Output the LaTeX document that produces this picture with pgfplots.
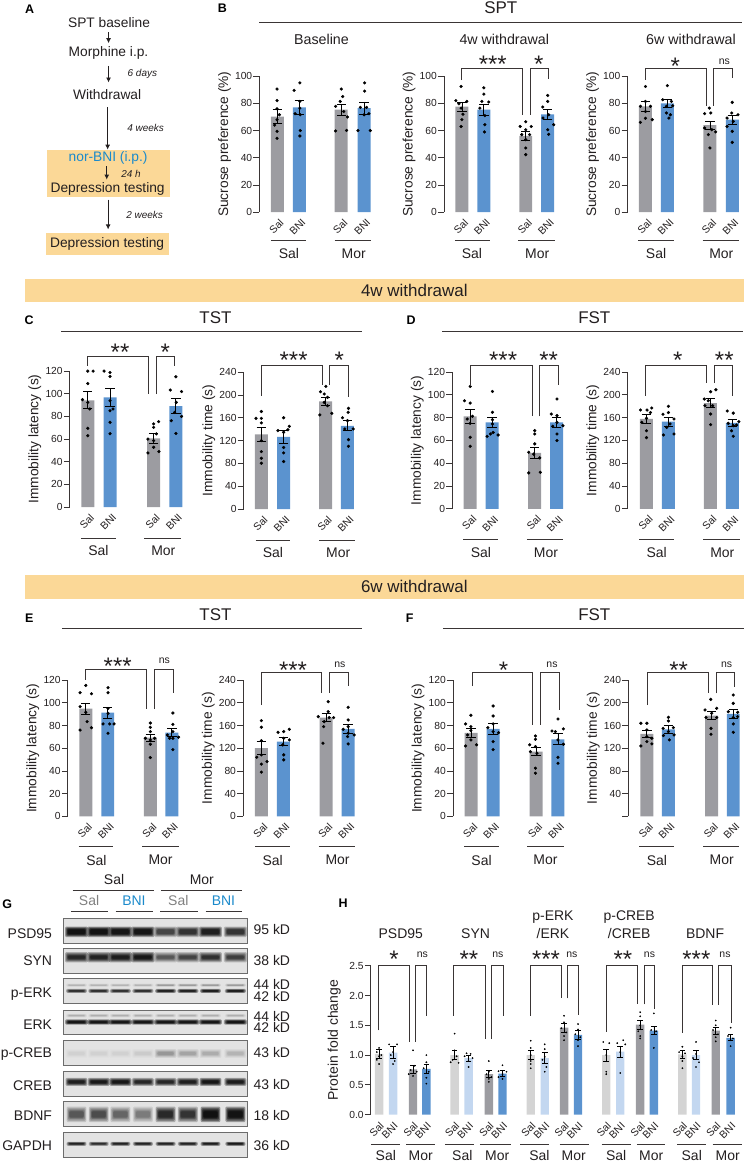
\documentclass[border=0pt]{standalone}
\usepackage{fontspec}
\setmainfont{Liberation Sans}
\usepackage{pgfplots}
\pgfplotsset{compat=1.18}
\definecolor{bargray}{HTML}{9C9CA1}
\definecolor{barblue}{HTML}{5B93CF}
\definecolor{lightgray}{HTML}{D4D4D4}
\definecolor{lightblue}{HTML}{C3D7F0}
\definecolor{bandorange}{HTML}{FBD897}
\definecolor{ink}{HTML}{231F20}
\definecolor{linecol}{HTML}{3A3535}
\definecolor{norblue}{HTML}{1B8ACB}
\newcommand{\fs}[1]{\fontsize{#1}{#1}\selectfont}
\def\grpA{31}
\def\grpB{44}
\def\tlx{4.5pt}
\def\tly{-2.5pt}

\pgfplotsset{
  panel/.style={
    scale only axis, width=120pt, height=137pt,
    anchor=south west, clip=false,
    xmin=0, xmax=120, ymin=0,
    axis y line*=left, axis x line*=bottom,
    x axis line style={draw=none},
    y axis line style={-, color=linecol, line width=0.8pt},
    major x tick style={draw=none},
    major y tick style={color=linecol, line width=0.8pt},
    tick align=outside, major tick length=6pt,
    xticklabels={Sal,BNI,Sal,BNI},
    x tick label style={xshift=\tlx, yshift=\tly, rotate=45, anchor=east, inner sep=0pt, font=\fs{10.5}, text=ink},
    y tick label style={font=\fs{10.3}, text=ink, inner sep=1pt},
    /pgf/number format/assume math mode=true,
    every axis y label/.style={at={([xshift=-35pt]axis description cs:0,0.5)}, rotate=90, anchor=center, font=\fs{13.8}, text=ink},
  },
  latency/.style={panel, ymax=120, ytick={0,20,...,120}, ylabel={Immobility latency (s)}},
  timeax/.style={panel, ymax=240, ytick={0,40,...,240}, ylabel={Immobility time (s)}},
  spt/.style={panel, ymax=100, ytick={0,20,...,100}, ylabel={Sucrose preference (\%)}},
  bars/.style={ybar, bar shift=0pt, bar width=13pt, draw=none, fill=#1,
    error bars/.cd, y dir=both, y explicit,
    error bar style={draw=black, line width=0.8pt},
    error mark options={rotate=90, mark size=4.7pt, black, line width=0.8pt}},
  dots/.style={only marks, mark=*, mark size=1.4pt, black, mark options={draw=none, fill=black}},
  hbars/.style={ybar, bar shift=0pt, bar width=8.4pt, draw=none, fill=#1,
    error bars/.cd, y dir=both, y explicit,
    error bar style={draw=black, line width=0.7pt},
    error mark options={rotate=90, mark size=2.8pt, black, line width=0.7pt}},
  hdots/.style={only marks, mark=*, mark size=0.65pt, black, mark options={draw=none, fill=black}},
}

% group underline and group name, used inside an axis
\newcommand{\grp}[4]{%
  \draw[linecol, line width=0.9pt] ([yshift=-\grpA pt]axis cs:#1,0) -- ([yshift=-\grpA pt]axis cs:#2,0);
  \node[font=\fs{14}, text=ink] at ([yshift=-\grpB pt]axis cs:#3,0) {#4};}

% significance bracket: x1 y1 x2 y2 ytop, pixel coordinates
\newcommand{\brk}[5]{\draw[linecol, line width=0.8pt] (#1,#2) -- (#1,#5) -- (#3,#5) -- (#3,#4);}
\newcommand{\sig}[3]{\node[anchor=base, inner sep=0pt, font=\fs{24}, text=ink] at (#1,{#2+13}) {#3};}
\newcommand{\ns}[2]{\node[font=\fs{10.5}, text=ink] at (#1,#2) {ns};}
\newcommand{\plabel}[3]{\node[font=\fs{12.5}\bfseries, text=black] at (#1,#2) {#3};}
\newcommand{\ttl}[5]{\node[font=\fs{17}, text=ink] at (#1,#2) {#3};
  \draw[linecol, line width=1pt] (#4,{#2+14.4}) -- (#5,{#2+14.4});}
\newcommand{\flow}[3]{\draw[ink, line width=0.9pt, -{Latex[length=5pt,width=5pt]}] (#1,#2) -- (#1,#3);}
% a blurred blot band: x y w h strength spread-of-blur-in-y
\newcommand{\band}[6]{%
  \foreach \d in {3,2.2,1.5,0.9,0.4,0}{
    \fill[black, opacity=#5*0.35, rounded corners=1.2pt] ({#1-#3/2-\d},{#2-#4/2-\d*#6}) rectangle ({#1+#3/2+\d},{#2+#4/2+\d*#6});}}
\newcommand{\blot}[2]{\fill[gray!22] (64,#1) rectangle (247.7,#2);}
\newcommand{\frameblot}[2]{\draw[gray!85!black, line width=0.8pt] (64,#1) rectangle (247.7,#2);}
\usetikzlibrary{arrows.meta}

\begin{document}
\begin{tikzpicture}
\begin{scope}[x=1pt,y=-1pt]
\path[use as bounding box] (0,0) rectangle (747,1164);
% orange boxes and bands
\fill[bandorange] (46.8,150.3) rectangle (170,197.3);
\fill[bandorange] (46.3,233.3) rectangle (169.5,256);
\fill[bandorange] (25.3,279.3) rectangle (745.3,302.7);
\fill[bandorange] (25.3,576) rectangle (745.3,600.3);
\node[font=\fs{17}, text=ink] at (415.3,290.7) {4w withdrawal};
\node[font=\fs{17}, text=ink] at (415.3,588) {6w withdrawal};
% panel A
\plabel{29.6}{9}{A}
\begin{scope}[every node/.style={font=\fs{13.8}, text=ink}]
\node at (109.3,22.7) {SPT baseline};
\node at (108.8,53.3) {Morphine i.p.};
\node at (107.4,94.7) {Withdrawal};
\node[text=norblue] at (108.4,158.7) {nor-BNI (i.p.)};
\node at (107.9,189.3) {Depression testing};
\node at (107.4,245) {Depression testing};
\end{scope}
\begin{scope}[every node/.style={font=\fs{10}\itshape, text=ink}]
\node at (142.7,74) {6 days};
\node at (146,128.3) {4 weeks};
\node at (131.3,174) {24 h};
\node at (145,215) {2 weeks};
\end{scope}
\flow{108.8}{32.3}{43.3}
\flow{108.8}{66}{82.7}
\flow{107.9}{107.7}{150}
\flow{107}{166.7}{180}
\flow{108.4}{200}{230}
% panel titles
\plabel{223}{8.3}{B}
\ttl{502}{8}{SPT}{260}{743.7}
\node[font=\fs{14.3}, text=ink] at (322.2,40) {Baseline};
\node[font=\fs{14.3}, text=ink] at (505.5,40) {4w withdrawal};
\node[font=\fs{14.3}, text=ink] at (692.6,40) {6w withdrawal};
\plabel{29.3}{321}{C}
\ttl{216}{318.3}{TST}{61.3}{363}
\plabel{412}{321}{D}
\ttl{595.7}{318.3}{FST}{443.3}{745}
\plabel{29.3}{620}{E}
\ttl{216}{616}{TST}{62}{363.3}
\plabel{410.7}{620}{F}
\ttl{595.7}{616}{FST}{444}{745.7}
\plabel{7.3}{906}{G}
\plabel{344}{905.7}{H}
% panel G, the blots
\blot{920.7}{945.7}\blot{950.3}{975.7}\blot{980.3}{1005.7}\blot{1012.3}{1036.7}
\blot{1043}{1067.7}\blot{1073.7}{1098.7}\blot{1104.3}{1129.3}\blot{1135.3}{1160.3}
\foreach \x/\v in {76.7/.95,99/.95,120.7/.9,143.3/.9,166/.5,188.3/.62,211/.8,236/.6}{\band{\x}{934}{17}{4.5}{\v}{1}}
\foreach \x/\v in {76.7/.72,99/.75,120.7/.82,143.3/.88,166/.42,188.3/.52,211/.65,236/.55}{\band{\x}{959.5}{17}{3}{\v}{1.2}}
\foreach \x/\v in {76.7/.72,99/.72,120.7/.7,143.3/.72,166/.85,188.3/.85,211/.88,236/.9}{\band{\x}{993.3}{15}{1}{\v}{.5}}
\foreach \x/\v in {76.7/.12,99/.12,120.7/.12,143.3/.12,166/.2,188.3/.2,211/.2,236/.2}{\band{\x}{987.5}{15}{.5}{\v}{.4}}
\foreach \x/\v in {76.7/.92,99/.9,120.7/.9,143.3/.9,166/.9,188.3/.9,211/.9,236/.92}{\band{\x}{1024.5}{17}{1.6}{\v}{.6}}
\foreach \x/\v in {76.7/.12,99/.12,120.7/.12,143.3/.12,166/.12,188.3/.12,211/.12,236/.12}{\band{\x}{1018}{15}{.5}{\v}{.5}}
\foreach \x/\v in {76.7/.03,99/.03,120.7/.03,143.3/.05,166/.18,188.3/.15,211/.12,236/.1}{\band{\x}{1056}{16}{3}{\v}{1}}
\foreach \x/\v in {76.7/.78,99/.85,120.7/.88,143.3/.72,166/.72,188.3/.8,211/.88,236/.82}{\band{\x}{1084.5}{16}{2.5}{\v}{.9}}
\foreach \x/\v in {76.7/.42,99/.47,120.7/.35,143.3/.27,166/.7,188.3/.62,211/.97,236/.95}{\band{\x}{1117}{14}{6}{\v}{1.6}}
\foreach \x/\v in {76.7/.8,99/.7,120.7/.8,143.3/.8,166/.8,188.3/.78,211/.85,236/.9}{\band{\x}{1146.5}{14}{1}{\v}{.5}}
\frameblot{920.7}{945.7}\frameblot{950.3}{975.7}\frameblot{980.3}{1005.7}\frameblot{1012.3}{1036.7}
\frameblot{1043}{1067.7}\frameblot{1073.7}{1098.7}\frameblot{1104.3}{1129.3}\frameblot{1135.3}{1160.3}
\begin{scope}[every node/.style={font=\fs{14}, text=ink}]
\node at (114.3,882) {Sal};
\node at (202.3,882) {Mor};
\node[text=gray] at (89.3,903) {Sal};
\node[text=norblue] at (134.3,903) {BNI};
\node[text=gray] at (178.7,903) {Sal};
\node[text=norblue] at (224,903) {BNI};
\node[anchor=east,inner sep=0pt] at (52.3,936) {PSD95};
\node[anchor=east,inner sep=0pt] at (52.3,962.7) {SYN};
\node[anchor=east,inner sep=0pt] at (52.3,996.7) {p-ERK};
\node[anchor=east,inner sep=0pt] at (52.3,1026.7) {ERK};
\node[anchor=east,inner sep=0pt] at (52.3,1057) {p-CREB};
\node[anchor=east,inner sep=0pt] at (52.3,1088) {CREB};
\node[anchor=east,inner sep=0pt] at (52.3,1118) {BDNF};
\node[anchor=east,inner sep=0pt] at (52.3,1148.7) {GAPDH};
\node[anchor=west,inner sep=0pt] at (254,932) {95 kD};
\node[anchor=west,inner sep=0pt] at (254,962.7) {38 kD};
\node[anchor=west,inner sep=0pt] at (254,987) {44 kD};
\node[anchor=west,inner sep=0pt] at (254,998.7) {42 kD};
\node[anchor=west,inner sep=0pt] at (254,1019) {44 kD};
\node[anchor=west,inner sep=0pt] at (254,1030.3) {42 kD};
\node[anchor=west,inner sep=0pt] at (254,1055.3) {43 kD};
\node[anchor=west,inner sep=0pt] at (254,1086.7) {43 kD};
\node[anchor=west,inner sep=0pt] at (254,1118) {18 kD};
\node[anchor=west,inner sep=0pt] at (254,1148.7) {36 kD};
\end{scope}
\foreach \a/\b/\c in {72.7/154.7/893,161.3/243/893,71/108.3/913.7,116/153.3/913.7,160.7/198/913.7,206/243/913.7}{
  \draw[linecol, line width=0.9pt] (\a,\c) -- (\b,\c);}
% panel H titles
\begin{scope}[every node/.style={font=\fs{14}, text=ink}]
\node at (401.7,936) {PSD95};
\node at (476.7,936) {SYN};
\node at (554.3,919.3) {p-ERK};
\node at (554.3,936) {/ERK};
\node at (630.7,919.3) {p-CREB};
\node at (630.7,936) {/CREB};
\node at (706.7,936) {BDNF};
\end{scope}
\end{scope}

% ---------- B ----------
\def\grpA{28.7}\def\grpB{41.5}
\begin{axis}[spt, at={(260pt,-212.7pt)}, height=136.4pt, xtick={18,40,82,105}]
\addplot[bars=bargray] coordinates {(18,70.3) +- (0,5) (82,75.3) +- (0,4)};
\addplot[bars=barblue] coordinates {(40,77) +- (0,5.5) (105,76.5) +- (0,4.5)};
\addplot[dots] coordinates {(17.7,90.5)(17.7,82)(17.7,76)(20,71.6)(17.7,68)(15.3,64)(17.7,59.4)(17.7,54.3)
 (40.6,95)(34.8,89.5)(40.6,81.4)(40.6,76.5)(35.8,72.4)(41,71.6)(41,60)(40.6,56)
 (82.1,90.5)(83.5,85)(81,81.4)(76.4,77.8)(84.5,74)(88.3,70)(76.4,59.7)(87.4,60.1)
 (105.5,95)(105.5,89)(101.2,77)(107.4,77)(105,71.6)(109.8,72.4)(98.8,60)(111.2,60)};
\grp{12}{47}{29.6}{Sal}\grp{75.5}{112}{94.5}{Mor}
\end{axis}
\begin{axis}[spt, at={(445pt,-212.7pt)}, height=136.4pt, xtick={18,40,82,104}]
\addplot[bars=bargray] coordinates {(18,77.5) +- (0,3.5) (82,56) +- (0,3.5)};
\addplot[bars=barblue] coordinates {(40,75.3) +- (0,4.2) (104,71.8) +- (0,3.8)};
\addplot[dots] coordinates {(17.2,92.4)(11.9,82)(15,79.7)(22.9,81.4)(17.2,76.5)(19,72)(18,68)(17.2,63)
 (40,91.4)(40,86.8)(38,81.4)(44.9,81)(36,76.5)(41,71)(41,64.3)(40.6,59)
 (82,66.5)(76.4,63)(87.5,63)(82,60.6)(78,57)(85.9,57)(82,53.3)(82,47.2)(82,42.3)
 (104,85.8)(104,81.4)(99,77.3)(105,71.6)(99.3,69.2)(110,64.3)(104,60.6)(105,57.2)};
\grp{11}{46.3}{28}{Sal}\grp{74.6}{111.4}{93.5}{Mor}
\end{axis}
\begin{axis}[spt, at={(629pt,-212.7pt)}, height=136.4pt, xtick={18,40,82.6,105}]
\addplot[bars=bargray] coordinates {(18,77.8) +- (0,3.6) (82.6,64) +- (0,3)};
\addplot[bars=barblue] coordinates {(40,80) +- (0,3.2) (105,68) +- (0,3.2)};
\addplot[dots] coordinates {(18,92.4)(18,81.4)(23,77.8)(13,77.8)(18,74)(24.8,68)(12.9,66)(18,69)
 (40,93)(35.3,82.6)(44,81.4)(39,77.8)(45.3,78.2)(39,72.9)(41.5,69.2)(43,71.6)
 (82,76.5)(77.3,72.4)(83.5,72.9)(77.3,61.9)(84.5,60.6)(88.3,59)(81,57)(82.6,47.2)
 (105,80.7)(104.5,72.9)(110.8,71.6)(99.8,69.2)(106,66.7)(105,59.4)(99.8,63)(105,51.3)};
\grp{11}{46.3}{28.6}{Sal}\grp{75.4}{111.7}{94}{Mor}
\end{axis}

% ---------- C ----------
\def\grpA{31}\def\grpB{44}
\begin{axis}[latency, at={(70pt,-508.3pt)}, height=136.3pt, xtick={18,40.3,84,106.3}]
\addplot[bars=bargray] coordinates {(18,94.2) +- (0,7.5) (84,60.7) +- (0,4.2)};
\addplot[bars=barblue] coordinates {(40.3,96.8) +- (0,7.6) (106.3,89.2) +- (0,6.6)};
\addplot[dots] coordinates {(18,120)(23.3,120)(18,109)(12.7,94.8)(18,92.4)(20,86.6)(18,69.5)(18,63)
 (34.3,120)(40.3,118.8)(40.3,115.3)(40.3,93.9)(43.3,86.6)(40.3,85)(40.3,74.8)(40.3,64.8)
 (89,75.4)(84,73.4)(84,70.4)(86.7,64.6)(78.3,60)(84,58.7)(84,52.8)(78.3,47.8)(89.3,49)
 (106.3,115)(100.7,103.3)(112,102)(106.7,92.4)(105,83.6)(112,80)(101.7,76.3)(106.3,65)};
\grp{11}{46}{28.7}{Sal}\grp{74.7}{111.7}{93.7}{Mor}
\end{axis}
\begin{axis}[timeax, at={(244.3pt,-510.3pt)}, height=137.3pt, xtick={17.7,40,82,104}]
\addplot[bars=bargray] coordinates {(17.7,131) +- (0,13) (82,188.7) +- (0,7.5)};
\addplot[bars=barblue] coordinates {(40,126.4) +- (0,11) (104,146) +- (0,8.8)};
\addplot[dots] coordinates {(17.7,171)(12.3,159)(17.7,159)(17.7,151)(17.7,120)(17.7,100.8)(17.7,89)(17.7,80.4)
 (40,160)(34.3,137.5)(40,134.6)(45.7,145)(44.3,139)(40,108)(40,98.4)(40,83.3)
 (82.3,215)(77,205.6)(80.7,201.6)(84,195.7)(80.7,187)(84,181)(76.3,165)(88.3,167.8)
 (105,176.5)(99,160)(104.7,169.5)(104,155)(101.3,140.4)(109.7,140.4)(105,121.7)(105,110)};
\grp{12}{46.7}{29.3}{Sal}\grp{75.7}{112}{94.7}{Mor}
\end{axis}

% ---------- D ----------
\begin{axis}[latency, at={(453.3pt,-510pt)}, xtick={18,40,82.7,104.7}]
\addplot[bars=bargray] coordinates {(18,81.2) +- (0,6.3) (82.7,49) +- (0,4.8)};
\addplot[bars=barblue] coordinates {(40,75.9) +- (0,4.4) (104.7,75.9) +- (0,4.4)};
\addplot[dots] coordinates {(18,107.4)(12.3,94.9)(18,92.8)(20.3,81.2)(18,75)(18,62.8)(18,54.9)(15,78.8)
 (40.3,103)(40.3,84.7)(40.3,78.2)(40.3,74.5)(35,63.6)(41,67)(46,64.8)(38.3,65.7)
 (82.7,68.6)(82.7,65.7)(82.7,57)(76.7,49.6)(81.7,48)(87.7,44.7)(76.7,31.5)(88.3,32)
 (105,96.4)(99.3,83.2)(105,81.8)(105,75.9)(111,73)(100.7,72.4)(105,65.7)(105,59.9)};
\grp{11}{46}{28.7}{Sal}\grp{74.7}{111.3}{94}{Mor}
\end{axis}
\begin{axis}[timeax, at={(629.3pt,-510pt)}, xtick={18.7,40.7,82.7,104.7}]
\addplot[bars=bargray] coordinates {(18.7,157.7) +- (0,7.2) (82.7,185.7) +- (0,7.3)};
\addplot[bars=barblue] coordinates {(40.7,153) +- (0,7.9) (104.7,150.7) +- (0,6.7)};
\addplot[dots] coordinates {(12.7,173.4)(19.3,173.4)(24,177)(22.7,169)(18.7,158.8)(14,151.8)(18.7,137)(18.7,125)
 (40.7,179.9)(35.3,166)(40.7,169)(46.3,157.7)(42.3,149)(39,143)(35.7,129.6)(46.3,131.4)
 (88.3,209)(83,205.6)(76.7,192.7)(80.7,189.8)(85,181)(77.3,181)(83,166.4)(83,147.7)
 (99.7,171.7)(105.7,168)(111.3,153)(100.7,150)(105.7,146)(109,147)(104,137)(105.7,127.3)};
\grp{11.7}{46.3}{29}{Sal}\grp{75.7}{112.3}{94.7}{Mor}
\end{axis}

% ---------- E ----------
\def\grpA{30}\def\grpB{44}
\begin{axis}[latency, at={(68pt,-818.3pt)}, height=136.6pt, xtick={18,40,82.7,104.3}]
\addplot[bars=bargray] coordinates {(18,94.8) +- (0,5.1) (82.7,69.4) +- (0,3.1)};
\addplot[bars=barblue] coordinates {(40,91.3) +- (0,5) (104.3,73.8) +- (0,3.5)};
\addplot[dots] coordinates {(18,115.3)(12.3,108.9)(23.7,108)(12.3,96.6)(18,91.6)(19.3,83.4)(12.3,76)(23.7,78.1)
 (40.3,113.3)(40.3,108.9)(40.3,95)(40.3,90.7)(35.3,81.4)(42,81.4)(46.3,81.4)(40.3,73.2)
 (82.7,82.2)(82.7,78.4)(82.7,74.6)(77.7,68.8)(82.7,67.3)(87,68.8)(82.7,63.5)(82.7,51.8)
 (105.3,91)(105.3,81)(105.3,74.6)(99.7,71.7)(111,69.7)(105.3,68.8)(102,68.8)(105.3,58.8)};
\grp{10.7}{45.7}{28.7}{Sal}\grp{74.7}{111}{93}{Mor}
\end{axis}
\begin{axis}[timeax, at={(243.7pt,-818.3pt)}, height=136.6pt, xtick={18.3,40.3,83.3,105.3}]
\addplot[bars=bargray] coordinates {(18.3,120) +- (0,11.7) (83.3,173.9) +- (0,7.3)};
\addplot[bars=barblue] coordinates {(40.3,131.7) +- (0,7) (105.3,154) +- (0,8.4)};
\addplot[dots] coordinates {(18.3,168.6)(18.3,157)(18.3,133.5)(18.3,108.3)(13.7,104.2)(24,96.6)(18.3,92)(18.3,77.9)
 (46.3,153.4)(35,148)(40.7,149.3)(40.7,137.6)(39.7,125.9)(40.7,108.3)(40.7,99.5)(46.3,134.7)
 (85.3,202)(85.3,184.4)(75.3,175.6)(90.7,173.9)(81.3,166.9)(80.7,158)(86.3,174)(80,128.8)
 (105.3,192)(105.3,169.8)(105.3,158)(100.3,153.4)(105.3,146.4)(111.3,143.4)(104.7,140.5)(105.3,127.6)};
\grp{12}{47}{29.7}{Sal}\grp{75.7}{112}{94.7}{Mor}
\end{axis}

% ---------- F ----------
\begin{axis}[latency, at={(454pt,-818.3pt)}, height=136.6pt, xtick={18.3,40.3,83.3,105.3}]
\addplot[bars=bargray] coordinates {(18.3,73.5) +- (0,3.7) (83.3,57) +- (0,3.5)};
\addplot[bars=barblue] coordinates {(40.3,77) +- (0,5.2) (105.3,67.9) +- (0,4.8)};
\addplot[dots] coordinates {(18,89)(12.7,81.4)(18,79)(18,75.5)(14.7,71.7)(18,67.3)(12.7,62)(23.7,63)
 (40.3,97.2)(40.3,88.4)(40.3,81.4)(35,78.1)(40.3,74.6)(45.7,73.7)(40.3,65.8)(40.3,58.8)
 (82.7,70.8)(82.7,67.9)(77,63)(82.7,61.5)(77.7,57)(84.3,55.6)(82.7,42.4)(82.7,38)
 (105.3,85.7)(110.7,77)(99.3,75.2)(102.7,74.6)(105.3,67.3)(110.7,63.5)(105.3,52)(105.3,46.8)};
\grp{11.3}{46}{28.7}{Sal}\grp{74.7}{111.3}{92.7}{Mor}
\end{axis}
\begin{axis}[timeax, at={(629.7pt,-818.3pt)}, height=136.6pt, xtick={18.7,40.3,83.7,105.3},
  yticklabels={,40,80,120,160,200,240}]
\addplot[bars=bargray] coordinates {(18.7,145.2) +- (0,6.7) (83.7,177.4) +- (0,6.7)};
\addplot[bars=barblue] coordinates {(40.3,153.4) +- (0,6.5) (105.3,180.3) +- (0,8)};
\addplot[dots] coordinates {(12.7,164)(18.7,164)(18.7,152.2)(18.7,140.5)(12.7,124)(23.7,137.6)(23.7,127.6)(18.7,131.7)
 (40.3,174.5)(40.3,168)(35,155)(45.3,156.3)(40.3,149.3)(46,143.4)(35.3,142.3)(41.3,134.7)
 (82.7,206)(77,187.4)(88.7,190.3)(83.7,181.5)(88.7,174)(78,174)(83,155)(83,144.6)
 (105.3,213.7)(105.3,199)(100.3,184.4)(109.7,183.3)(105.3,174)(109.7,175.6)(105.3,162.8)(105.3,148)};
\grp{11.3}{46}{28.7}{Sal}\grp{75}{111.3}{93.7}{Mor}
\end{axis}

% ---------- H ----------
\def\grpA{29.4}\def\grpB{41}
\def\tlx{3pt}\def\tly{-3.5pt}
\begin{axis}[panel, at={(371.7pt,-1117.3pt)}, width=375pt, height=149.3pt, xmax=375,
  ymax=2.5, ytick={0,0.5,...,2.5}, ylabel={Protein fold change},
  /pgf/number format/.cd, fixed, fixed zerofill, precision=1, /pgfplots/.cd,
  xtick={8.3,22.3,42.3,55.7,84,98,118.3,132,160.3,174.3,193.7,207.7,236,250,270,283.7,312.3,326,345.7,360.7},
  xticklabels={Sal,BNI,Sal,BNI,Sal,BNI,Sal,BNI,Sal,BNI,Sal,BNI,Sal,BNI,Sal,BNI,Sal,BNI,Sal,BNI},
  every axis y label/.style={at={([xshift=-36.7pt]axis description cs:0,0.5)}, rotate=90, anchor=center, font=\fs{14}, text=ink}]
\addplot[hbars=lightgray] coordinates {(8.3,1.02) +- (0,.08) (84,1.0) +- (0,.08) (160.3,1.0) +- (0,.08) (236,1.0) +- (0,.1) (312.3,1.01) +- (0,.07)};
\addplot[hbars=lightblue] coordinates {(22.3,1.04) +- (0,.1) (98,.95) +- (0,.05) (174.3,.95) +- (0,.09) (250,1.06) +- (0,.09) (326,1.0) +- (0,.08)};
\addplot[hbars=bargray] coordinates {(42.3,.76) +- (0,.07) (118.3,.68) +- (0,.06) (193.7,1.46) +- (0,.08) (270,1.51) +- (0,.08) (345.7,1.41) +- (0,.06)};
\addplot[hbars=barblue] coordinates {(55.7,.77) +- (0,.08) (132,.69) +- (0,.05) (207.7,1.34) +- (0,.07) (283.7,1.41) +- (0,.07) (360.7,1.29) +- (0,.05)};
\addplot[hdots] coordinates {(8.3,1.12)(6,1.05)(10.5,1.0)(8.3,.98)(6,.92)(8.3,.85)
 (18.3,1.18)(26.3,1.18)(22.3,1.05)(20,1.0)(24,.9)(22.3,.85)
 (42.3,1.08)(44,.82)(40,.75)(46,.72)(38,.68)(42.3,.65)
 (55.7,1.0)(55.7,.88)(53,.78)(58,.72)(55.7,.62)(55.7,.52)
 (84,1.36)(84,1.08)(86,.98)(82,.92)(80,.88)(88,.87)
 (96,1.03)(100,1.02)(94,.98)(102,.95)(98,.9)(98,.8)
 (118.3,.9)(118.3,.72)(116,.68)(121,.63)(118.3,.6)(118.3,.55)
 (132,.83)(128,.73)(136,.72)(132,.68)(128,.63)(132,.6)
 (160.3,1.24)(160.3,1.12)(160.3,1.0)(160.3,.9)(160.3,.85)(160.3,.78)
 (174.3,1.18)(174.3,1.1)(174.3,.97)(172,.92)(176,.8)(174.3,.72)
 (193.7,1.66)(193.7,1.55)(191,1.45)(196,1.38)(193.7,1.32)(193.7,1.25)
 (207.7,1.52)(207.7,1.43)(205,1.35)(210,1.3)(207.7,1.25)(207.7,1.15)
 (233,1.22)(239,1.2)(236,1.0)(236,.72)(236,.68)
 (253,1.25)(247,1.2)(255,1.18)(250,1.05)(250,.7)
 (270,1.72)(270,1.65)(270,1.5)(268,1.4)(270,1.32)(270,1.28)
 (283.7,1.7)(281,1.42)(286,1.4)(283.7,1.12)
 (312.3,1.14)(309,1.05)(315,1.03)(312.3,.98)(312.3,.9)(312.3,.78)
 (326,1.22)(326,1.02)(323,.95)(329,.88)(326,.8)
 (345.7,1.58)(345.7,1.5)(343,1.42)(348,1.35)(345.7,1.3)(345.7,1.23)
 (360.7,1.46)(358,1.32)(363,1.28)(360.7,1.25)(360.7,1.15)};
\grp{0}{29.3}{15}{Sal}\grp{35.3}{64}{50}{Mor}
\grp{74.3}{103.7}{91.7}{Sal}\grp{109.3}{141}{126.7}{Mor}
\grp{150}{179}{169}{Sal}\grp{189.3}{218.3}{203.3}{Mor}
\grp{231.3}{260.7}{246}{Sal}\grp{266.7}{295}{281}{Mor}
\grp{307.3}{335.7}{321.7}{Sal}\grp{342.7}{371.7}{357.7}{Mor}
\end{axis}

% ---------- brackets and stars ----------
\begin{scope}[x=1pt,y=-1pt]
\brk{462}{80.3}{523.6}{115}{69}\brk{531.3}{115}{549.4}{79.3}{69}
\sig{494}{60}{***}\sig{540}{60}{*}
\brk{646.8}{80}{707.9}{106}{69}\brk{715.5}{106}{734.6}{78.3}{69}
\sig{676.9}{61.7}{*}\ns{726}{61.7}
\brk{87.3}{366.7}{148.7}{395}{357.3}\brk{156.3}{395}{175.3}{366.7}{357.3}
\sig{120.3}{348.3}{**}\sig{165.7}{348.3}{*}
\brk{262.3}{396.7}{322.7}{386}{366.3}\brk{330}{386}{349.3}{397.7}{366.3}
\sig{294.3}{356.7}{***}\sig{340}{356.7}{*}
\brk{472}{387.3}{533.3}{417.3}{366.3}\brk{541}{417.3}{559.3}{386}{366.3}
\sig{504.3}{356.7}{***}\sig{550}{356.7}{**}
\brk{647.3}{396.7}{708}{384}{366.3}\brk{716}{384}{734.3}{397.3}{366.3}
\sig{679.3}{356.7}{*}\sig{726}{356.7}{**}
\brk{86}{681.3}{146.7}{710.7}{671.3}\brk{154.7}{710.7}{173.7}{695}{671.3}
\sig{118}{662.7}{***}\ns{164.7}{662.7}
\brk{261.7}{706.7}{322.3}{694.3}{674.3}\brk{330.3}{694.3}{349}{687.3}{674.3}
\sig{293.7}{666.7}{***}\ns{340.7}{666.7}
\brk{473.3}{687.7}{534}{726.7}{674.3}\brk{542}{726.7}{560.7}{711.7}{674.3}
\sig{504.7}{666.7}{*}\ns{553.3}{666.7}
\brk{649}{706.7}{710}{695}{674.3}\brk{717.7}{695}{736.3}{688.3}{674.3}
\sig{680.3}{666.7}{**}\ns{728.3}{666.7}
\brk{379.3}{1032.7}{410.7}{1044}{967.7}\brk{416.7}{1044}{427.7}{1018.3}{967.7}
\sig{395}{956.7}{*}\ns{423.3}{956.7}
\brk{454.7}{1018.3}{486.7}{1041.7}{967.7}\brk{493}{1041.7}{504.3}{1018.3}{967.7}
\sig{470}{956.7}{**}\ns{499}{956.7}
\brk{531.3}{1018.3}{562.3}{1000.7}{967.7}\brk{568.7}{1000.7}{579.3}{1017.7}{967.7}
\sig{547.3}{956.7}{***}\ns{573.3}{956.7}
\brk{607.7}{1034}{639.3}{1006.7}{967.7}\brk{645.7}{1006.7}{655.7}{1011.7}{967.7}
\sig{624.3}{956.7}{**}\ns{651}{956.7}
\brk{683.7}{1035}{714}{1007.3}{967.7}\brk{720.3}{1007.3}{732.7}{1025}{967.7}
\sig{698}{956.7}{***}\ns{726.7}{956.7}
\end{scope}
\end{tikzpicture}
\end{document}
